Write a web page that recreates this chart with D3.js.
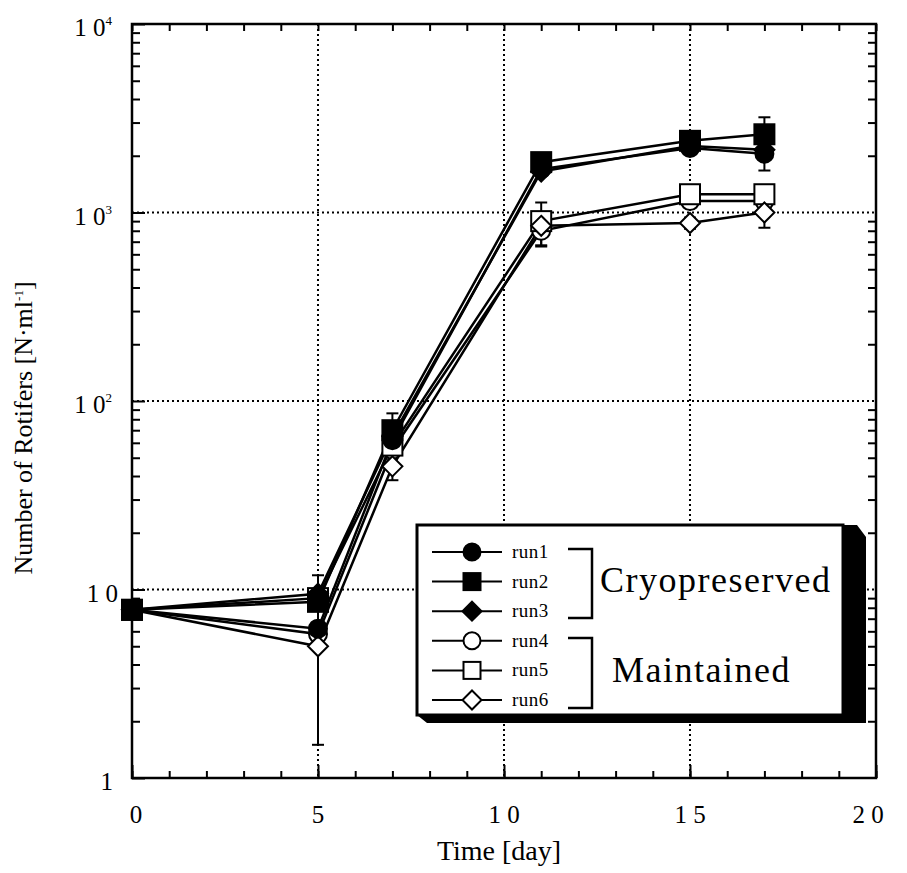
<!DOCTYPE html>
<html>
<head>
<meta charset="utf-8">
<title>Rotifers</title>
<script src="https://d3js.org/d3.v7.min.js"></script>
<style>
  body { margin: 0; background: #fff; }
  svg text { font-family: "Liberation Serif", "Times New Roman", serif; fill: #000; }
</style>
</head>
<body>
<div id="mychart"></div>
<script>
// days sampled
var days = [0, 5, 7, 11, 15, 17];

// rotifer counts per run (N/ml)
var run1 = [7.8, 6.2, 62, 1700, 2200, 2050];
var run2 = [7.8, 8.6, 70, 1850, 2400, 2600];
var run3 = [7.8, 9.5, 65, 1650, 2250, 2150];
var run4 = [7.8, 5.8, 55, 800, 1150, 1150];
var run5 = [7.8, 9.0, 58, 900, 1250, 1250];
var run6 = [7.8, 5.0, 45, 850, 880, 1000];

// error bars (+/-), 0 = none drawn
var run1Err = [0, 0, 0, 0, 0, 380];
var run2Err = [0, 3.3, 16, 0, 300, 600];
var run3Err = [0, 0, 0, 0, 0, 0];
var run4Err = [0, 0, 0, 140, 0, 0];
var run5Err = [0, 0, 0, 230, 150, 150];
var run6Err = [0, 3.5, 7, 0, 60, 170];

var runNames = ["run1", "run2", "run3", "run4", "run5", "run6"];
var groupNames = ["Cryopreserved", "Maintained"];

var xTicks = [0, 5, 10, 15, 20];
var xTickLabels = ["0", "5", "1 0", "1 5", "2 0"];
var yTicks = [1, 10, 100, 1000, 10000];
var yTickLabels = ["1", "1 0", "1 0", "1 0", "1 0"];
var yTickExps = ["", "", "2", "3", "4"];

var runs = [run1, run2, run3, run4, run5, run6];
var errs = [run1Err, run2Err, run3Err, run4Err, run5Err, run6Err];
var shapes = ["circle", "square", "diamond", "circle", "square", "diamond"];
var filled = [true, true, true, false, false, false];
// open runs first so the filled ones sit on top, square last
var drawOrder = [3, 4, 5, 0, 2, 1];

var width = 907, height = 873;
var pLeft = 132, pRight = 876, pTop = 24, pBottom = 778;

var svg = d3.select("#mychart").append("svg")
    .attr("width", width)
    .attr("height", height);

var x = d3.scaleLinear().domain([0, 20]).range([pLeft, pRight]);
var y = d3.scaleLog().domain([1, 10000]).range([pBottom, pTop]);

// dotted grid at major values
var gx = [5, 10, 15], gy = [10, 100, 1000];
svg.selectAll(".gridx").data(gx).enter().append("line")
    .attr("x1", d => x(d)).attr("x2", d => x(d))
    .attr("y1", pTop).attr("y2", pBottom)
    .attr("stroke", "#000").attr("stroke-width", 2)
    .attr("stroke-dasharray", "2,3");
svg.selectAll(".gridy").data(gy).enter().append("line")
    .attr("x1", pLeft).attr("x2", pRight)
    .attr("y1", d => y(d)).attr("y2", d => y(d))
    .attr("stroke", "#000").attr("stroke-width", 2)
    .attr("stroke-dasharray", "2,3");

// minor ticks
var yMinor = [];
for (var p = 0; p < 4; p++) {
  for (var m = 2; m <= 9; m++) yMinor.push(m * Math.pow(10, p));
}
var xMinor = d3.range(0, 21);

function styleAxis(g) {
  g.select(".domain").remove();
  g.selectAll(".tick line").attr("stroke", "#000").attr("stroke-width", 2);
}

svg.append("g").attr("transform", "translate(0," + pBottom + ")")
    .call(d3.axisBottom(x).tickValues(xMinor).tickSize(-7).tickFormat(""))
    .call(styleAxis);
svg.append("g").attr("transform", "translate(0," + pBottom + ")")
    .call(d3.axisBottom(x).tickValues(xTicks).tickSize(-13).tickFormat(""))
    .call(styleAxis);
svg.append("g").attr("transform", "translate(0," + pTop + ")")
    .call(d3.axisTop(x).tickValues(xMinor).tickSize(-7).tickFormat(""))
    .call(styleAxis);
svg.append("g").attr("transform", "translate(" + pLeft + ",0)")
    .call(d3.axisLeft(y).tickValues(yMinor).tickSize(-8).tickFormat(""))
    .call(styleAxis);
svg.append("g").attr("transform", "translate(" + pLeft + ",0)")
    .call(d3.axisLeft(y).tickValues(yTicks).tickSize(-13).tickFormat(""))
    .call(styleAxis);
svg.append("g").attr("transform", "translate(" + pRight + ",0)")
    .call(d3.axisRight(y).tickValues(yMinor).tickSize(-8).tickFormat(""))
    .call(styleAxis);

// frame
svg.append("rect")
    .attr("x", pLeft).attr("y", pTop)
    .attr("width", pRight - pLeft).attr("height", pBottom - pTop)
    .attr("fill", "none").attr("stroke", "#000").attr("stroke-width", 2.5);

// tick labels
svg.selectAll(".xl").data(xTicks).enter().append("text")
    .attr("x", (d, i) => x(d) + (i == 0 ? 4 : (i == 4 ? -8 : 0)))
    .attr("y", 823)
    .attr("text-anchor", "middle")
    .style("font-size", "25px")
    .text((d, i) => xTickLabels[i]);

var yl = svg.selectAll(".yl").data(yTicks).enter().append("text")
    .attr("x", (d, i) => i == 0 ? 113 : (yTickExps[i] ? 112 : 118))
    .attr("y", d => y(d) + 12)
    .attr("text-anchor", "end")
    .style("font-size", "25px");
yl.append("tspan").text((d, i) => yTickLabels[i]);
yl.append("tspan")
    .attr("dy", -11)
    .style("font-size", "13px")
    .text((d, i) => yTickExps[i]);

// axis titles
svg.append("text")
    .attr("x", 499).attr("y", 860)
    .attr("text-anchor", "middle")
    .style("font-size", "28px")
    .text("Time [day]");

var yt = svg.append("text")
    .attr("transform", "translate(32,428) rotate(-90)")
    .attr("text-anchor", "middle")
    .style("font-size", "26px");
yt.append("tspan").text("Number of Rotifers [N·ml");
yt.append("tspan").attr("dy", -9).style("font-size", "13px").text("-1");
yt.append("tspan").attr("dy", 9).text("]");

// marker drawing
function marker(g, shape, fill, size) {
  var el;
  if (shape == "circle") {
    el = g.append("circle").attr("r", size / 2);
  } else if (shape == "square") {
    el = g.append("rect").attr("x", -size / 2).attr("y", -size / 2)
        .attr("width", size).attr("height", size);
  } else {
    var s = size / 2 + 1;
    el = g.append("path").attr("d", "M0," + (-s) + "L" + s + ",0L0," + s + "L" + (-s) + ",0Z");
  }
  el.attr("fill", fill ? "#000" : "#fff")
    .attr("stroke", "#000").attr("stroke-width", 2);
}

var line = d3.line()
    .x((d, i) => x(days[i]))
    .y(d => y(d));

// lines
runs.forEach(function(r) {
  svg.append("path")
      .attr("d", line(r))
      .attr("fill", "none")
      .attr("stroke", "#000")
      .attr("stroke-width", 2.5);
});

// error bars
runs.forEach(function(r, k) {
  r.forEach(function(v, i) {
    var e = errs[k][i];
    if (!e) return;
    var cx = x(days[i]);
    var lo = Math.max(v - e, 1), hi = v + e;
    var g = svg.append("g").attr("stroke", "#000").attr("stroke-width", 2);
    g.append("line").attr("x1", cx).attr("x2", cx).attr("y1", y(lo)).attr("y2", y(hi));
    g.append("line").attr("x1", cx - 6).attr("x2", cx + 6).attr("y1", y(lo)).attr("y2", y(lo));
    g.append("line").attr("x1", cx - 6).attr("x2", cx + 6).attr("y1", y(hi)).attr("y2", y(hi));
  });
});

// markers
drawOrder.forEach(function(k) {
  runs[k].forEach(function(v, i) {
    var g = svg.append("g").attr("transform", "translate(" + x(days[i]) + "," + y(v) + ")");
    marker(g, shapes[k], filled[k], shapes[k] == "square" ? 20 : 18);
  });
});

// legend
var lx = 417, ly = 525, lw = 426, lh = 190;
svg.append("path")
    .attr("d", "M" + (lx + lw) + "," + ly + "L" + (lx + lw + 14) + "," + ly +
               "L" + (lx + lw + 23) + "," + (ly + 12) + "L" + (lx + lw + 23) + "," + (ly + lh + 8) +
               "L" + (lx + 10) + "," + (ly + lh + 8) + "L" + lx + "," + (ly + lh) + "Z")
    .attr("fill", "#000");
svg.append("rect")
    .attr("x", lx).attr("y", ly).attr("width", lw).attr("height", lh)
    .attr("fill", "#fff").attr("stroke", "#000").attr("stroke-width", 3);

var rowY = d3.scalePoint().domain(runNames).range([552, 700]);

runNames.forEach(function(name, k) {
  var ry = rowY(name);
  svg.append("line")
      .attr("x1", 432).attr("x2", 502).attr("y1", ry).attr("y2", ry)
      .attr("stroke", "#000").attr("stroke-width", 2);
  var g = svg.append("g").attr("transform", "translate(472," + ry + ")");
  marker(g, shapes[k], filled[k], 17);
  svg.append("text")
      .attr("x", 512).attr("y", ry + 6)
      .style("font-size", "19px")
      .style("letter-spacing", "0.5px")
      .text(name);
});

// brackets
var brackets = [[549, 618], [638, 708]];
brackets.forEach(function(b) {
  svg.append("path")
      .attr("d", "M568," + b[0] + "L592," + b[0] + "L592," + b[1] + "L568," + b[1])
      .attr("fill", "none").attr("stroke", "#000").attr("stroke-width", 2.5);
});

svg.append("text")
    .attr("x", 600).attr("y", 592)
    .style("font-size", "36px")
    .style("letter-spacing", "1.5px")
    .text(groupNames[0]);
svg.append("text")
    .attr("x", 612).attr("y", 682)
    .style("font-size", "36px")
    .style("letter-spacing", "1.5px")
    .text(groupNames[1]);
</script>
</body>
</html>
